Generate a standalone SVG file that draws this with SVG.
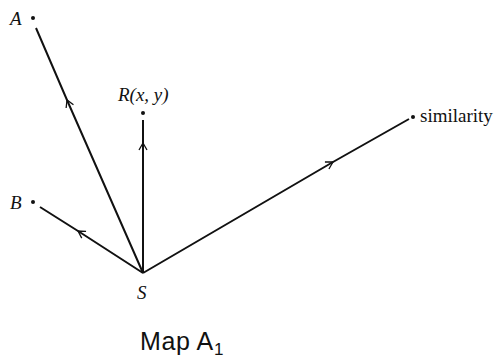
<svg xmlns="http://www.w3.org/2000/svg" width="499" height="358" viewBox="0 0 499 358">
<style>
.e{fill:none;stroke:#111;stroke-width:2;marker-mid:url(#ar)}
.d{fill:#111}
.l{font-family:"Liberation Serif",serif;font-style:italic;font-size:19px;fill:#111}
.s{font-family:"Liberation Serif",serif;font-size:19px;fill:#111}
.c{font-family:"Liberation Sans",Arial,sans-serif;font-size:25px;letter-spacing:0.6px;fill:#111}
</style>
<defs>
<marker id="ar" viewBox="0 0 10 10" refX="8" refY="5" markerWidth="10" markerHeight="10" markerUnits="userSpaceOnUse" orient="auto">
<path d="M1,1 L8,5 L1,9" fill="none" stroke="#111" stroke-width="1.3"/>
</marker>
</defs>
<rect width="499" height="358" fill="#fff"/>
<g id="connectors">
<path class="e" d="M143,273 L67,100 L36,28"/>
<path class="e" d="M143,273 L143,143 L143,120"/>
<path class="e" d="M143,273 L78,231 L40,207"/>
<path class="e" d="M143,273 L333,162 L409,119"/>
</g>
<g id="A"><circle class="d" cx="33" cy="18" r="2"/><text class="l" x="10" y="25">A</text></g>
<g id="R"><circle class="d" cx="143" cy="113" r="2"/><text class="l" x="118" y="101">R(x, y)</text></g>
<g id="B"><circle class="d" cx="33" cy="202" r="2"/><text class="l" x="10" y="209">B</text></g>
<g id="similarity"><circle class="d" cx="413" cy="117" r="2"/><text class="s" x="420" y="122">similarity</text></g>
<g id="S"><text class="l" x="137" y="299">S</text></g>
<g id="caption"><text class="c" x="140" y="350">Map A<tspan font-size="17" dy="5">1</tspan></text></g>
</svg>
